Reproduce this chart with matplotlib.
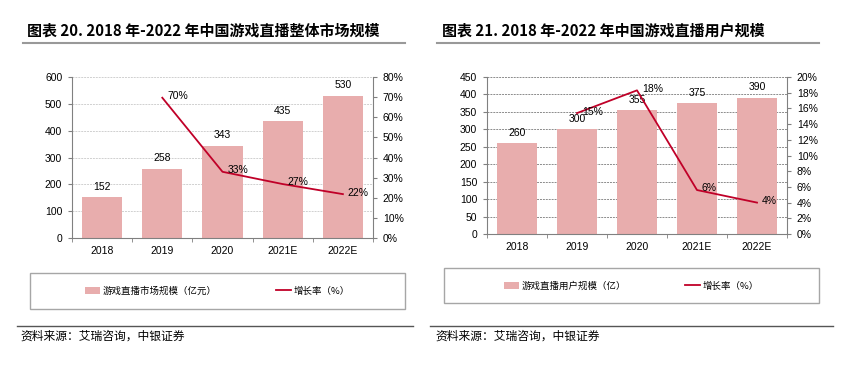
import matplotlib
matplotlib.use("Agg")
import matplotlib.pyplot as plt
from matplotlib.patches import Rectangle, Patch
from matplotlib.lines import Line2D
import numpy as np

plt.rcParams["font.family"] = ["Liberation Sans Narrow", "Liberation Sans", "Noto Sans CJK SC", "DejaVu Sans"]

CJK = ["Noto Sans CJK SC", "DejaVu Sans"]
BAR_COLOR = "#E8ADAD"
LINE_COLOR = "#C00028"

years = ["2018", "2019", "2020", "2021E", "2022E"]

# chart 20: market size (亿元) and growth
market_size = [152, 258, 343, 435, 530]
market_growth = [None, 69.7, 32.9, 26.8, 21.8]
market_growth_labels = [None, "70%", "33%", "27%", "22%"]

# chart 21: users (亿) and growth
users = [260, 300, 355, 375, 390]
user_growth = [None, 15.4, 18.3, 5.6, 4.0]
user_growth_labels = [None, "15%", "18%", "6%", "4%"]

W, H = 853, 367
fig = plt.figure(figsize=(W / 100, H / 100), dpi=100)


def fx(px):
    return px / W


def fy(py):
    return 1 - py / H


def draw_panel(rect, bars, growth, glabels, ymax, ystep, rmax, rstep, grid_color,
               bar_name, legend_box, legend_y):
    ax = fig.add_axes(rect)
    x = np.arange(len(years))
    ax.bar(x, bars, width=0.67, color=BAR_COLOR, zorder=2)
    for xi, v in zip(x, bars):
        ax.text(xi, v + ymax * 0.035, str(v), ha="center", va="bottom", fontsize=7.5)
    ax.set_xlim(-0.5, len(years) - 0.5)
    ax.set_ylim(0, ymax)
    ax.set_yticks(np.arange(0, ymax + 1, ystep))
    ax.set_xticks(x)
    ax.set_xticklabels(years)
    ax.set_xticks(np.arange(-0.5, len(years), 1), minor=True)
    ax.tick_params(axis="x", which="major", length=0, labelsize=7.5, pad=6)
    ax.tick_params(axis="x", which="minor", length=3, color="#808080")
    ax.tick_params(axis="y", length=3, color="#808080", labelsize=7.5, pad=4)
    ax.grid(axis="y", color=grid_color, linestyle=(0, (2, 1)), linewidth=0.7, zorder=0)
    for s in ["top", "right"]:
        ax.spines[s].set_visible(False)
    ax.spines["left"].set_color("#808080")
    ax.spines["bottom"].set_color("#808080")

    ax2 = ax.twinx()
    gx = [xi for xi, g in zip(x, growth) if g is not None]
    gy = [g for g in growth if g is not None]
    ax2.plot(gx, gy, color=LINE_COLOR, linewidth=1.3, zorder=3)
    for xi, g, lab in zip(x, growth, glabels):
        if g is None:
            continue
        ax2.text(xi + 0.08, g + rmax * 0.01, lab, ha="left", va="center", fontsize=7.5)
    ax2.set_ylim(0, rmax)
    ax2.set_yticks(np.arange(0, rmax + 0.1, rstep))
    ax2.set_yticklabels([f"{int(t)}%" for t in np.arange(0, rmax + 0.1, rstep)])
    ax2.tick_params(axis="y", length=3, color="#808080", labelsize=7.5, pad=4)
    for s in ["top", "left", "bottom"]:
        ax2.spines[s].set_visible(False)
    ax2.spines["right"].set_color("#808080")

    # legend box
    bx0, by0, bx1, by1 = legend_box
    fig.patches.append(Rectangle((fx(bx0), fy(by1)), fx(bx1 - bx0), (by1 - by0) / H,
                                 transform=fig.transFigure, fill=False,
                                 edgecolor="#A6A6A6", linewidth=1.0))
    handles = [Patch(facecolor=BAR_COLOR, edgecolor="none"),
               Line2D([], [], color=LINE_COLOR, linewidth=1.3)]
    fig.legend(handles, [bar_name, "增长率（%）"], ncol=2, frameon=False,
               loc="center", bbox_to_anchor=(fx((bx0 + bx1) / 2), fy(legend_y)),
               prop={"family": CJK, "size": 6.8}, handlelength=1.6, handleheight=0.7,
               handletextpad=0.3, columnspacing=6.2)
    return ax


draw_panel([fx(72), fy(238), fx(373 - 72), (238 - 77) / H],
           market_size, market_growth, market_growth_labels,
           600, 100, 80, 10, "#D0D0D0",
           "游戏直播市场规模（亿元）", (30, 273, 405, 309), 291)

draw_panel([fx(487), fy(234), fx(787 - 487), (234 - 77) / H],
           users, user_growth, user_growth_labels,
           450, 50, 20, 2, "#8C8C8C",
           "游戏直播用户规模（亿）", (444, 268, 819, 303), 286)

# titles and rules
fig.text(fx(27), fy(30), "图表 20. 2018 年-2022 年中国游戏直播整体市场规模",
         family=CJK, fontsize=10.8, fontweight="bold", va="center", ha="left")
fig.text(fx(442), fy(30), "图表 21. 2018 年-2022 年中国游戏直播用户规模",
         family=CJK, fontsize=10.8, fontweight="bold", va="center", ha="left")
for x0, x1 in [(23, 405), (437, 819)]:
    fig.add_artist(Line2D([fx(x0), fx(x1)], [fy(43), fy(43)], color="#999999", linewidth=1.5))
for x0, x1 in [(17, 413), (430, 833)]:
    fig.add_artist(Line2D([fx(x0), fx(x1)], [fy(326), fy(326)], color="#555555", linewidth=1.0))

fig.text(fx(20), fy(336), "资料来源：艾瑞咨询，中银证券", family=CJK, fontsize=8.5,
         style="italic", va="center", ha="left")
fig.text(fx(435), fy(336), "资料来源：艾瑞咨询，中银证券", family=CJK, fontsize=8.5,
         style="italic", va="center", ha="left")

fig.savefig("out.png", dpi=100)
